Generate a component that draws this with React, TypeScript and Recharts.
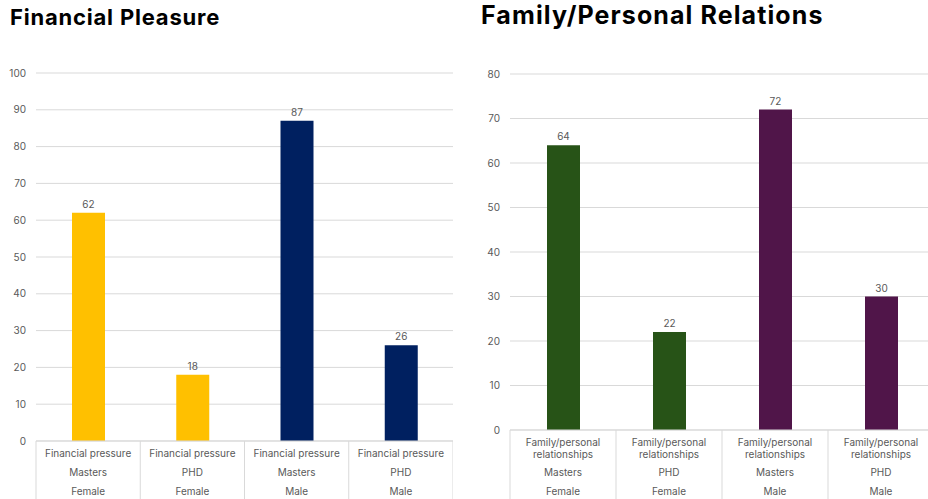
import { BarChart, Bar, XAxis, YAxis, CartesianGrid, Cell, LabelList } from "recharts"

const finTopic = ["Financial pressure", "Financial pressure", "Financial pressure", "Financial pressure"]
const famTopic = ["Family/personal relationships", "Family/personal relationships", "Family/personal relationships", "Family/personal relationships"]
const degree = ["Masters", "PHD", "Masters", "PHD"]
const gender = ["Female", "Female", "Male", "Male"]
const finValues = [62, 18, 87, 26]
const famValues = [64, 22, 72, 30]
const finTicks = [0, 10, 20, 30, 40, 50, 60, 70, 80, 90, 100]
const famTicks = [0, 10, 20, 30, 40, 50, 60, 70, 80]

const finColors = { Female: "#FFC000", Male: "#002060" }
const famColors = { Female: "#275317", Male: "#501549" }

const finData = finValues.map((v, i) => ({ key: i, topic: finTopic[i], degree: degree[i], gender: gender[i], value: v }))
const famData = famValues.map((v, i) => ({ key: i, topic: famTopic[i], degree: degree[i], gender: gender[i], value: v }))

const FONT = "Inter, 'Noto Sans', sans-serif"
const GRAY = "#595959"
const GRID = "#d9d9d9"

function MultiTick(props: any) {
  const { x, y, payload, index, data, band, bottom, split } = props
  const row = data[payload.value]
  const topicLines = split ? ["Family/personal", "relationships"] : [row.topic]
  const lines = [...topicLines, row.degree, row.gender]
  const offsets = split ? [12, 24, 42, 61] : [12, 31, 50]
  return (
    <g>
      <line x1={x - band / 2} x2={x - band / 2} y1={y} y2={y + bottom} stroke={GRID} />
      {index === data.length - 1 && (
        <line x1={x + band / 2} x2={x + band / 2} y1={y} y2={y + bottom} stroke={GRID} />
      )}
      {lines.map((t, i) => (
        <text key={i} x={x} y={y + offsets[i]} textAnchor="middle" dominantBaseline="central" fontSize={10} fill={GRAY} fontFamily={FONT}>
          {t}
        </text>
      ))}
    </g>
  )
}

function Panel(props: any) {
  const { data, colors, ticks, max, width, height, top, yWidth, xHeight, band, split } = props
  return (
    <BarChart width={width} height={height} data={data} margin={{ top, right: 0, bottom: 0, left: 0 }}>
      <CartesianGrid vertical={false} stroke={GRID} />
      <XAxis
        dataKey="key"
        height={xHeight}
        axisLine={{ stroke: GRID }}
        tickLine={false}
        tickSize={0}
        tickMargin={0}
        interval={0}
        tick={<MultiTick data={data} band={band} bottom={xHeight} split={split} />}
      />
      <YAxis
        width={yWidth}
        domain={[0, max]}
        ticks={ticks}
        axisLine={false}
        tickLine={false}
        tickSize={0}
        tickMargin={10}
        tick={{ fontSize: 10, fill: GRAY, fontFamily: FONT }}
      />
      <Bar dataKey="value" barSize={33} isAnimationActive={false}>
        {data.map((d: any) => (
          <Cell key={d.key} fill={colors[d.gender]} />
        ))}
        <LabelList dataKey="value" position="top" offset={5} fontSize={10} fill={GRAY} fontFamily={FONT} />
      </Bar>
    </BarChart>
  )
}

export default function App() {
  return (
    <div style={{ position: "relative", width: 928, height: 499, overflow: "hidden", background: "#fff" }}>
      <style>{`body{margin:0}`}</style>
      <div style={{ position: "absolute", left: 10, top: 4, fontFamily: FONT, fontWeight: 700, fontSize: 22, letterSpacing: 0.8, color: "#000" }}>
        Financial Pleasure
      </div>
      <div style={{ position: "absolute", left: 481, top: 0, fontFamily: FONT, fontWeight: 700, fontSize: 25, letterSpacing: 1.1, color: "#000" }}>
        Family/Personal Relations
      </div>
      <div style={{ position: "absolute", left: 0, top: 0 }}>
        <Panel data={finData} colors={finColors} ticks={finTicks} max={100} width={453} height={499} top={73} yWidth={36} xHeight={58} band={104.25} split={false} />
      </div>
      <div style={{ position: "absolute", left: 470, top: 0 }}>
        <Panel data={famData} colors={famColors} ticks={famTicks} max={80} width={464} height={499} top={74} yWidth={40} xHeight={69} band={106} split={true} />
      </div>
    </div>
  )
}
